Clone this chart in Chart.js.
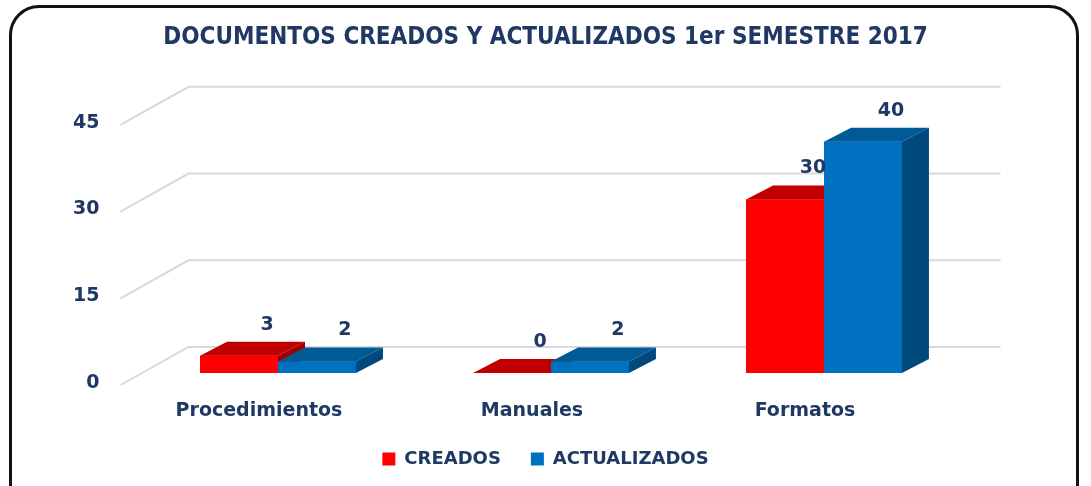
<!DOCTYPE html>
<html>
<head>
<meta charset="utf-8">
<script src="https://cdn.jsdelivr.net/npm/chart.js@4.4.1/dist/chart.umd.min.js"></script>
<style>
  html, body { margin: 0; padding: 0; background: #fff; overflow: hidden; }
  #wrap { position: relative; width: 1091px; height: 486px; }
  #frame {
    position: absolute; left: 9px; top: 5px; width: 1070px; height: 520px;
    border: 3px solid #111; border-radius: 30px; box-sizing: border-box;
  }
  canvas { position: absolute; left: 0; top: 0; }
</style>
</head>
<body>
<div id="wrap">
  <div id="frame"></div>
  <canvas id="docChart" width="1091" height="486"></canvas>
</div>
<script>
// Data
const categories = ['Procedimientos', 'Manuales', 'Formatos'];
const creados = [3, 0, 30];
const actualizados = [2, 2, 40];
const yTicks = [0, 15, 30, 45];

const navy = '#1F3864';

// 3D look: depth offset of top/side faces
const DEPTH_X = 27;
const DEPTH_Y = -14;

const faceColors = [
  { front: '#FF0000', top: '#C00000', side: '#9E0000' },
  { front: '#0070C0', top: '#005A96', side: '#00497C' }
];

// Slanted grid lines + 3D faces + value labels
const bars3d = {
  id: 'bars3d',
  beforeDatasetsDraw(chart) {
    const { ctx, chartArea, scales } = chart;
    ctx.save();
    ctx.strokeStyle = '#D9D9D9';
    ctx.lineWidth = 2;
    yTicks.forEach(v => {
      const py = scales.y.getPixelForValue(v);
      ctx.beginPath();
      ctx.moveTo(chartArea.left - 21, py + 12);
      ctx.lineTo(chartArea.left + 47, py - 26);
      ctx.lineTo(chartArea.right + 40, py - 26);
      ctx.stroke();
    });
    ctx.restore();
  },
  afterDatasetsDraw(chart) {
    const { ctx } = chart;
    ctx.save();
    const n = categories.length;
    for (let i = 0; i < n; i++) {
      chart.data.datasets.forEach((ds, d) => {
        const bar = chart.getDatasetMeta(d).data[i];
        const c = faceColors[d];
        const l = bar.x - bar.width / 2;
        const r = bar.x + bar.width / 2;
        const t = bar.y;
        const b = bar.base;
        // front
        ctx.fillStyle = c.front;
        ctx.fillRect(l, t, r - l, b - t);
        // top
        ctx.fillStyle = c.top;
        ctx.beginPath();
        ctx.moveTo(l, t);
        ctx.lineTo(l + DEPTH_X, t + DEPTH_Y);
        ctx.lineTo(r + DEPTH_X, t + DEPTH_Y);
        ctx.lineTo(r, t);
        ctx.closePath();
        ctx.fill();
        // side
        if (b - t > 0) {
          ctx.fillStyle = c.side;
          ctx.beginPath();
          ctx.moveTo(r, t);
          ctx.lineTo(r + DEPTH_X, t + DEPTH_Y);
          ctx.lineTo(r + DEPTH_X, b + DEPTH_Y);
          ctx.lineTo(r, b);
          ctx.closePath();
          ctx.fill();
        }
      });
    }
    // value labels
    ctx.fillStyle = navy;
    ctx.font = 'bold 19px "DejaVu Sans", Verdana, sans-serif';
    ctx.textAlign = 'center';
    ctx.textBaseline = 'middle';
    chart.data.datasets.forEach((ds, d) => {
      chart.getDatasetMeta(d).data.forEach((bar, i) => {
        ctx.fillText(String(ds.data[i]), bar.x + 28, bar.y - 31);
      });
    });
    ctx.restore();
  }
};

const tickFont = { family: '"DejaVu Sans", Verdana, sans-serif', size: 19, weight: 'bold' };

new Chart(document.getElementById('docChart'), {
  type: 'bar',
  data: {
    labels: categories,
    datasets: [{
      label: 'CREADOS',
      data: creados,
      backgroundColor: faceColors[0].front,
      barPercentage: 1,
      categoryPercentage: 0.571
    }, {
      label: 'ACTUALIZADOS',
      data: actualizados,
      backgroundColor: faceColors[1].front,
      barPercentage: 1,
      categoryPercentage: 0.571
    }]
  },
  options: {
    responsive: false,
    animation: false,
    layout: { padding: { left: 10, right: 10, top: 0, bottom: 8 } },
    plugins: {
      title: {
        display: true,
        text: 'DOCUMENTOS CREADOS Y ACTUALIZADOS 1er SEMESTRE 2017',
        color: navy,
        font: { family: '"Liberation Sans Narrow", "Arial Narrow", "DejaVu Sans Condensed", sans-serif', size: 24, weight: 'bold' },
        padding: { top: 23, bottom: 61 }
      },
      legend: {
        position: 'bottom',
        labels: {
          color: navy,
          font: { family: '"DejaVu Sans", Verdana, sans-serif', size: 18, weight: 'bold' },
          boxWidth: 13,
          boxHeight: 13,
          padding: 30
        }
      },
      tooltip: { enabled: false }
    },
    scales: {
      x: {
        grid: { display: false, drawTicks: false },
        border: { display: false },
        ticks: { color: navy, font: tickFont, padding: 27, labelOffset: -19 },
        afterFit(s) { s.height = 47; }
      },
      y: {
        min: 0,
        max: 45,
        grid: { display: false, drawTicks: false },
        border: { display: false },
        ticks: {
          color: navy, font: tickFont, padding: 42, labelOffset: 10,
          callback: (v) => yTicks.includes(v) ? String(v) : null,
          stepSize: 15
        },
        afterFit(s) { s.width = 131.5; }
      },
      y2: {
        position: 'right',
        min: 0,
        max: 45,
        grid: { display: false, drawTicks: false },
        border: { display: false },
        ticks: { display: false },
        afterFit(s) { s.width = 120.5; }
      }
    }
  },
  plugins: [bars3d]
});
</script>
</body>
</html>
